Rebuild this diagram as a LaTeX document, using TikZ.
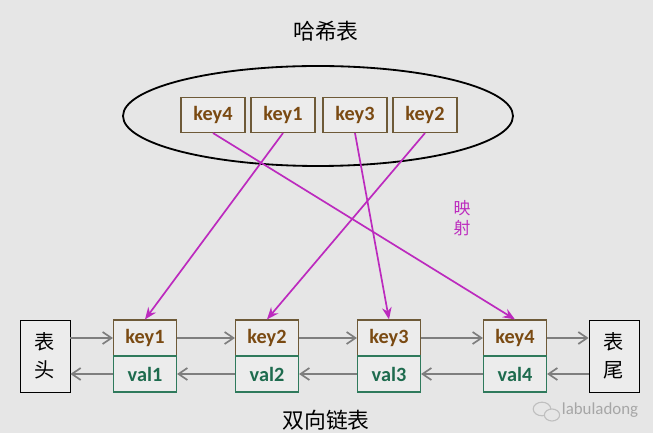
\documentclass[tikz,border=0pt]{standalone}
\usepackage{fontspec}
\setmainfont{Carlito}
\newfontfamily\cjk{Noto Sans CJK SC}
\usepackage{tikz}
\usetikzlibrary{arrows.meta, positioning, calc, shapes.geometric}

\definecolor{bgcol}{HTML}{E6E6E6}
\definecolor{keytext}{HTML}{7A4A12}
\definecolor{keyline}{HTML}{6E5A38}
\definecolor{valtext}{HTML}{1E6B4E}
\definecolor{valline}{HTML}{2F7A5C}
\definecolor{mapcol}{HTML}{BC2ABE}
\definecolor{linkcol}{HTML}{7E7E7E}

\begin{document}
\begin{tikzpicture}[
    font=\large,
    hashkey/.style={
        draw=keyline,
        thick,
        minimum width=1.6cm,
        minimum height=0.875cm,
        fill=white!25!bgcol,
        text=keytext,
        font=\Large\bfseries
    },
    listkey/.style={
        draw=keyline,
        thick,
        minimum width=1.575cm,
        minimum height=0.9cm,
        fill=white!25!bgcol,
        text=keytext,
        font=\Large\bfseries
    },
    listval/.style={
        draw=valline,
        thick,
        minimum width=1.575cm,
        minimum height=0.9cm,
        fill=white!25!bgcol,
        text=valtext,
        font=\Large\bfseries
    },
    endbox/.style={
        draw,
        semithick,
        minimum width=1.25cm,
        minimum height=1.8cm,
        fill=white!25!bgcol,
        align=center,
        font=\cjk\Large
    },
    link/.style={
        draw=linkcol,
        line width=1.2pt,
        -{Straight Barb[length=2.2mm, width=3mm]}
    },
    map/.style={
        draw=mapcol,
        line width=1.2pt,
        -{Stealth[length=3mm, width=2.4mm]}
    },
    title/.style={
        font=\cjk\fontsize{15.5}{18}\selectfont
    }
]

% Background
\fill[bgcol] (0,0) rectangle (16.325,10.825);
\useasboundingbox (0,0) rectangle (16.325,10.825);

% Hash table
\node[title] (hashtitle) at (8.15,10.05) {哈希表};
\node[draw, ellipse, line width=1.3pt, minimum width=9.75cm, minimum height=2.5cm] (table) at (7.95,7.925) {};

\node[hashkey] (hkey4) at (5.325,7.95) {key4};
\node[hashkey] (hkey1) at (7.075,7.95) {key1};
\node[hashkey] (hkey3) at (8.875,7.95) {key3};
\node[hashkey] (hkey2) at (10.625,7.95) {key2};

% Doubly linked list
\node[endbox] (head) at (1.125,1.925) {表\\[2pt]头};
\node[endbox] (tail) at (15.35,1.925) {表\\[2pt]尾};

\foreach \i/\x in {1/3.625, 2/6.675, 3/9.725, 4/12.875} {
    \node[listkey] (lkey\i) at (\x,2.375) {key\i};
    \node[listval] (lval\i) at (\x,1.475) {val\i};
}

\node[title] (listtitle) at (8.15,0.33) {双向链表};

% Next / prev pointers
\draw[link] (head.east |- lkey1) -- (lkey1.west);
\draw[link] (lval1.west) -- (head.east |- lval1);
\draw[link] (lkey1) -- (lkey2);
\draw[link] (lval2) -- (lval1);
\draw[link] (lkey2) -- (lkey3);
\draw[link] (lval3) -- (lval2);
\draw[link] (lkey3) -- (lkey4);
\draw[link] (lval4) -- (lval3);
\draw[link] (lkey4.east) -- (tail.west |- lkey4);
\draw[link] (tail.west |- lval4) -- (lval4.east);

% Mapping
\draw[map] (hkey4.south) -- (lkey4.north);
\draw[map] (hkey1.south) -- (lkey1.north);
\draw[map] (hkey3.south) -- (lkey3.north);
\draw[map] (hkey2.south) -- (lkey2.north);
\node[text=mapcol, align=center, font=\cjk\large] (maplabel) at (11.55,5.375) {映\\射};

% Watermark
\draw[gray!50, thick] (13.55,0.6) ellipse (0.22 and 0.17);
\draw[gray!50, thick, fill=bgcol] (13.8,0.45) ellipse (0.19 and 0.15);
\node[text=gray!70, font=\large] (mark) at (15.0,0.575) {labuladong};

\end{tikzpicture}
\end{document}
